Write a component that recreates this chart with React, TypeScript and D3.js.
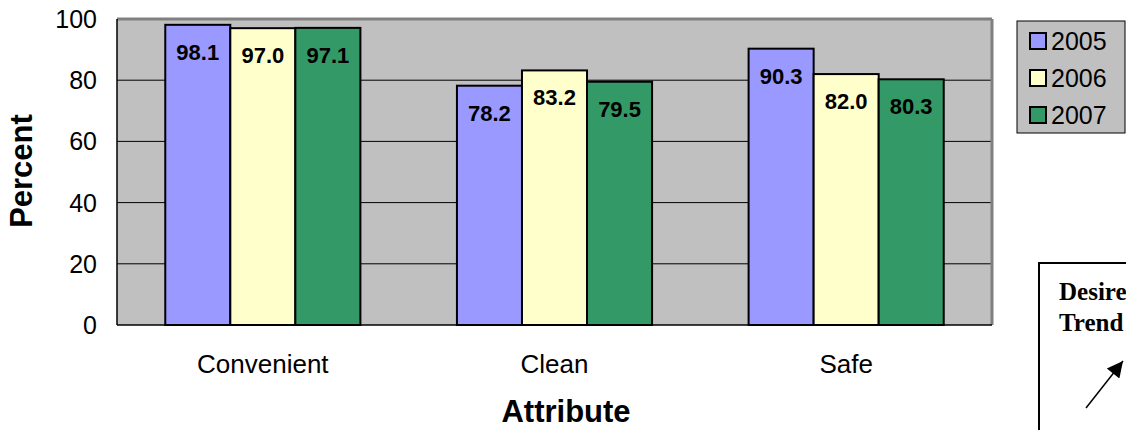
import React from 'react';
import * as d3 from 'd3';

const categories = ['Convenient', 'Clean', 'Safe'];
const years = ['2005', '2006', '2007'];
const values2005 = [98.1, 78.2, 90.3];
const values2006 = [97.0, 83.2, 82.0];
const values2007 = [97.1, 79.5, 80.3];
const yTicks = [0, 20, 40, 60, 80, 100];

const seriesColors = ['#9999ff', '#ffffcc', '#339966'];

const W = 1126;
const H = 430;
const plot = { left: 117, right: 992, top: 19, bottom: 325 };
const sans = '"Liberation Sans", Arial, sans-serif';
const serif = '"Liberation Serif", "Times New Roman", serif';

const App: React.FC = () => {
    const series = [values2005, values2006, values2007];

    const x0 = d3.scaleBand<string>()
        .domain(categories)
        .range([plot.left, plot.right])
        .paddingInner(0.331)
        .paddingOuter(0.1655);

    const x1 = d3.scaleBand<string>()
        .domain(years)
        .range([0, x0.bandwidth()]);

    const y = d3.scaleLinear()
        .domain([0, 100])
        .range([plot.bottom, plot.top]);

    return (
        <svg width={W} height={H} style={{ position: 'absolute', left: 0, top: 0 }} fontFamily={sans}>
            <rect x={0} y={0} width={W} height={H} fill="white" />

            {/* plot area */}
            <rect x={plot.left} y={plot.top} width={plot.right - plot.left} height={plot.bottom - plot.top} fill="#c0c0c0" />
            {yTicks.filter(t => t > 0).map(t => (
                <line key={t} x1={plot.left} x2={plot.right} y1={y(t)} y2={y(t)} stroke="black" strokeWidth={1} />
            ))}
            <line x1={plot.left} x2={plot.right} y1={plot.top} y2={plot.top} stroke="#808080" strokeWidth={3} />
            <line x1={plot.right} x2={plot.right} y1={plot.top} y2={plot.bottom} stroke="#808080" strokeWidth={3} />

            {/* bars */}
            {categories.map((c, ci) => (
                <g key={c} transform={`translate(${x0(c)},0)`}>
                    {years.map((yr, si) => {
                        const v = series[si][ci];
                        return (
                            <g key={yr}>
                                <rect x={x1(yr)} y={y(v)} width={x1.bandwidth()} height={y(0) - y(v)}
                                    fill={seriesColors[si]} stroke="black" strokeWidth={2} />
                                <text x={(x1(yr) ?? 0) + x1.bandwidth() / 2} y={y(v) + 35} textAnchor="middle"
                                    fontSize={22} fontWeight="bold" fill="black">{v.toFixed(1)}</text>
                            </g>
                        );
                    })}
                </g>
            ))}

            {/* axes */}
            <line x1={plot.left} x2={plot.left} y1={plot.top} y2={plot.bottom} stroke="black" strokeWidth={1.5} />
            <line x1={plot.left} x2={plot.right} y1={plot.bottom} y2={plot.bottom} stroke="black" strokeWidth={1.5} />

            {yTicks.map(t => (
                <text key={t} x={97} y={y(t) + 9} textAnchor="end" fontSize={25} fill="black">{t}</text>
            ))}
            {categories.map(c => (
                <text key={c} x={(x0(c) ?? 0) + x0.bandwidth() / 2} y={373} textAnchor="middle" fontSize={26} fill="black">{c}</text>
            ))}

            <text x={566} y={422} textAnchor="middle" fontSize={31} fontWeight="bold">Attribute</text>
            <text transform="translate(32,171) rotate(-90)" textAnchor="middle" fontSize={31} fontWeight="bold">Percent</text>

            {/* legend */}
            <rect x={1017} y={21} width={108} height={112} fill="#c0c0c0" stroke="black" strokeWidth={1} />
            {years.map((yr, i) => (
                <g key={yr} transform={`translate(1030,${41 + i * 37})`}>
                    <rect x={0} y={-8} width={16} height={16} fill={seriesColors[i]} stroke="black" strokeWidth={2} />
                    <text x={21} y={9} fontSize={25} fill="black">{yr}</text>
                </g>
            ))}

            {/* desired trend box, cut by the right edge as in the original */}
            <rect x={1039} y={263} width={120} height={200} fill="white" stroke="black" strokeWidth={2} />
            <text x={1059} y={300} fontFamily={serif} fontWeight="bold" fontSize={25}>Desired</text>
            <text x={1059} y={331} fontFamily={serif} fontWeight="bold" fontSize={25}>Trend</text>
            <defs>
                <marker id="arrowhead" viewBox="0 -5 10 10" refX={10} refY={0} markerUnits="userSpaceOnUse"
                    markerWidth={20} markerHeight={16} orient="auto">
                    <path d="M0,-5L10,0L0,5Z" fill="black" />
                </marker>
            </defs>
            <line x1={1086} y1={408} x2={1123} y2={361} stroke="black" strokeWidth={1.5} markerEnd="url(#arrowhead)" />
        </svg>
    );
};

export default App;
